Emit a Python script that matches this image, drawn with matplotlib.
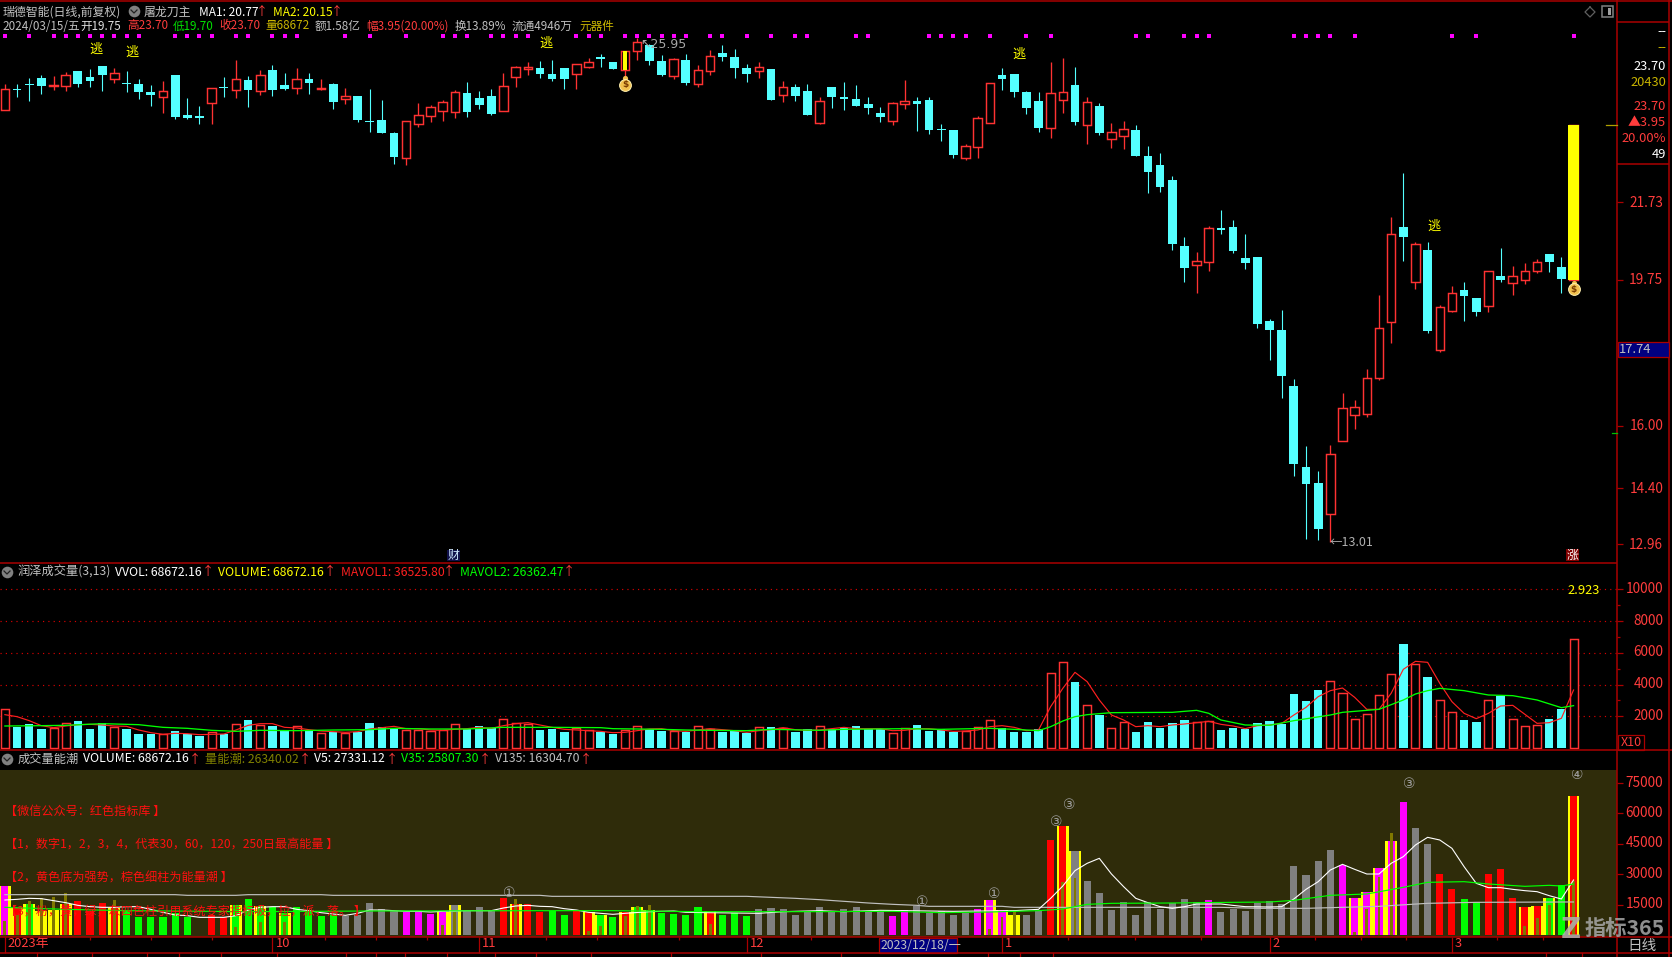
import numpy as np
import matplotlib
matplotlib.use('Agg')
import matplotlib.pyplot as plt
from matplotlib.patches import Rectangle
from matplotlib.transforms import ScaledTranslation

plt.rcParams['font.family'] = ['Noto Sans CJK SC', 'DejaVu Sans']
plt.rcParams['axes.unicode_minus'] = False

opens = [24.10,24.64,24.76,24.92,24.72,24.72,25.10,24.94,25.23,24.90,
24.79,24.76,24.56,24.44,24.99,23.97,23.94,24.28,24.69,24.62,
24.87,24.58,25.12,24.74,24.67,24.89,24.63,24.76,24.39,24.46,
23.81,23.84,23.51,22.87,23.75,23.95,24.08,24.05,24.53,24.40,
24.46,24.08,24.95,25.16,25.17,25.02,25.17,25.03,25.20,25.46,
25.33,25.13,25.61,25.76,25.35,24.98,25.38,24.77,25.10,25.56,
25.46,25.17,25.10,25.15,24.49,24.69,24.58,23.77,24.69,24.43,
24.38,24.25,24.02,23.82,24.26,24.33,24.35,23.61,23.58,22.87,
23.16,23.77,24.99,25.02,24.56,24.33,23.64,24.36,24.74,23.72,
24.20,23.36,23.44,23.58,22.92,22.69,22.30,20.61,20.11,20.21,
21.07,21.10,20.30,20.33,18.69,18.46,17.02,14.94,14.53,13.75,
15.62,16.28,16.31,17.23,18.67,21.10,19.69,20.51,17.93,18.95,
19.48,19.28,19.06,19.84,19.67,19.74,19.98,20.40,20.07,19.75]
highs = [24.76,24.76,24.91,24.99,24.97,25.07,25.10,25.14,25.23,25.17,
25.10,24.89,24.74,24.84,24.99,24.40,24.20,24.65,24.94,25.38,
24.97,25.12,25.25,25.04,25.17,25.04,24.89,24.78,24.66,24.46,
24.63,24.35,23.53,23.81,24.28,24.23,24.35,24.61,24.81,24.58,
24.63,25.04,25.23,25.33,25.35,25.38,25.17,25.28,25.42,25.53,
25.33,25.61,25.95,25.79,25.51,25.43,25.53,25.25,25.63,25.76,
25.66,25.28,25.33,25.15,24.84,24.76,24.76,24.43,24.69,24.81,
24.74,24.43,24.17,24.30,24.87,24.43,24.43,23.74,23.58,23.22,
23.94,24.80,25.17,25.02,24.58,24.56,25.33,25.43,25.20,24.43,
24.28,23.76,23.81,23.71,23.17,22.99,22.40,20.84,20.46,21.12,
21.53,21.28,20.92,20.33,18.74,18.97,17.21,15.48,14.84,15.51,
16.84,16.66,17.46,19.35,21.35,22.48,20.71,20.71,19.10,19.58,
19.69,19.28,19.97,20.56,20.10,20.17,20.28,20.40,20.33,23.70]
lows = [24.10,24.43,24.33,24.51,24.61,24.58,24.69,24.68,24.58,24.79,
24.56,24.38,24.20,24.02,23.87,23.87,23.74,23.74,24.43,24.40,
24.17,24.48,24.46,24.61,24.51,24.51,24.61,24.12,24.25,23.79,
23.53,23.51,22.71,22.69,23.66,23.79,23.81,23.89,23.92,24.12,
23.97,24.08,24.69,24.99,24.92,24.84,24.63,24.63,25.17,25.20,
25.15,24.94,25.38,25.25,24.97,24.89,24.74,24.69,24.99,25.35,
24.92,24.81,24.92,24.35,24.30,24.33,23.97,23.74,24.15,24.10,
24.20,24.00,23.79,23.71,24.12,23.56,23.48,23.30,22.87,22.81,
22.87,23.77,24.61,24.43,24.00,23.53,23.38,24.02,23.71,23.22,
23.46,23.12,23.10,22.92,21.97,21.99,20.51,19.69,19.40,19.97,
20.92,20.43,20.02,18.51,17.69,16.71,14.71,13.10,13.07,13.01,
15.62,15.92,16.23,17.17,18.12,20.22,19.51,18.38,17.89,18.92,
18.69,18.82,18.92,19.69,19.35,19.63,19.92,19.94,19.40,19.75]
closes = [24.63,24.62,24.75,24.71,24.74,24.99,24.76,24.84,24.99,25.04,
24.77,24.56,24.48,24.58,23.92,23.89,23.89,24.65,24.66,24.88,
24.61,24.99,24.61,24.63,24.88,24.79,24.65,24.30,24.45,23.84,
23.79,23.51,22.89,23.81,23.96,24.17,24.29,24.55,24.04,24.23,
24.00,24.70,25.19,25.18,25.02,24.89,24.89,25.27,25.32,25.41,
25.15,25.61,25.83,25.35,24.99,25.40,24.79,25.11,25.47,25.46,
25.17,25.02,25.19,24.35,24.68,24.46,23.97,24.34,24.43,24.38,
24.20,24.15,23.92,24.27,24.34,24.25,23.58,23.59,22.94,23.17,
23.88,24.80,24.89,24.56,24.15,23.63,24.52,24.55,23.79,24.29,
23.51,23.52,23.60,22.92,22.51,22.12,20.66,20.05,20.22,21.06,
21.02,20.48,20.17,18.61,18.46,17.28,15.02,14.51,13.35,15.27,
16.45,16.47,17.22,18.50,20.91,20.84,20.65,18.43,19.04,19.40,
19.33,18.92,19.96,19.74,19.83,19.98,20.19,20.21,19.76,23.70]
volume = [2436,1344,1512,1197,1239,1554,1701,1197,1575,1344,
1197,882,882,882,1071,882,777,987,882,1491,
1764,1428,1386,1071,1365,1134,924,1008,924,1008,
1575,1302,1197,1155,1155,1050,1113,1491,1197,1386,
1239,1806,1554,1512,1134,1197,1008,1239,1113,1008,
882,1155,1365,1218,1071,1050,1008,1365,1176,1008,
1071,945,1302,1323,1260,1008,1197,1365,1176,1260,
1386,1197,1176,924,1239,1449,1071,1176,1008,1071,
1302,1743,1239,1008,1008,1197,4704,5397,4158,2688,
2079,1239,1638,1008,1638,1281,1575,1764,1617,1722,
1134,1260,1197,1575,1701,1512,3402,2961,3654,4200,
3444,1806,2121,3318,4641,6552,5271,4473,3003,2247,
1764,1638,3003,3276,1806,1365,1428,1827,2457,6867]
mavol1 = [2100,1974,1722,1407,1281,1386,1470,1491,1449,1386,
1365,1134,966,861,924,903,840,861,882,1134,
1428,1533,1533,1302,1260,1155,1071,1029,987,1029,
1197,1281,1365,1218,1218,1134,1113,1176,1218,1302,
1239,1407,1533,1596,1449,1302,1176,1134,1092,1050,
966,987,1092,1197,1218,1092,1050,1134,1218,1155,
1092,987,1092,1155,1281,1155,1113,1134,1218,1302,
1218,1218,1218,1092,1113,1218,1218,1134,1050,1071,
1134,1344,1407,1302,1092,1134,2604,3759,4767,4179,
3024,2079,1764,1344,1407,1344,1449,1512,1596,1680,
1491,1386,1218,1407,1449,1554,2079,2562,3234,3612,
3780,3192,2436,2436,3444,4956,5460,5397,4074,2919,
2184,1848,2184,2646,2688,2121,1554,1596,1869,3654]
mavol2_idx = [0,3,5,8,11,13,15,17,19,21,24,27,30,32,35,38,41,45,49,50,54,56,58,61,63,67,69,74,77,81,83,85,86,87,88,89,90,91,96,98,99,100,102,104,106,109,110,113,115,116,117,118,120,122,124,126,128,129]
mavol2 = [1386,1407,1428,1533,1470,1302,1239,1113,1050,1113,1092,1134,1155,1239,1197,1197,1302,1302,1281,1218,1176,1134,1113,1092,1176,1113,1176,1218,1176,1239,1176,1092,1344,1701,1974,2100,2163,2226,2247,2373,2184,1764,1449,1428,1722,2079,2247,2436,3024,3402,3612,3759,3612,3339,3297,3024,2541,2667]
v5_idx = list(range(51)) + [51,53,55,56,62,64,67,69,72,78,83] + list(range(85,130))
v5 = [17273,17602,18095,17931,16944,15957,14641,13983,13654,13654,
13983,13983,12667,11186,9870,9541,8719,8719,8719,9541,
12338,13654,13983,13983,12667,12009,11022,10364,9706,10693,
12338,12338,12009,11680,11680,11351,11680,11844,12009,12009,
12009,13325,14312,14641,14147,13983,12996,12338,11186,10693,
10199,10693,11515,11844,11186,10693,11515,12009,11515,12173,11680,12009,
12667,18095,24182,31749,35368,37835,30104,23853,18095,15957,13983,13160,13983,15299,15299,15299,14600,13983,13900,13818,13983,17766,
22537,26320,32078,34874,32407,30104,30104,35368,38658,44415,48199,46883,42770,33723,25498,23359,23359,22537,21879,21385,19411,17766,27143]
v35_idx = [0,5,10,20,30,45,50,57,67,73,77,81,85,87,89,91,96,101,104,106,109,112,115,117,120,122,125,127,128,129]
v35 = [13654,12667,12009,11515,11844,12009,12009,11515,11515,11680,11022,11351,12009,12831,15134,15628,15792,16121,16286,17108,19576,20234,23524,25991,26320,25169,24017,24511,24182,25169]
v135_idx = [0,14,15,19,20,26,27,44,45,61,63,65,67,69,71,73,75,76,82,83,92,96,100,103,107,113,117,121,129]
v135 = [19905,19905,19576,19576,19905,19905,19576,19576,19082,19082,18589,18095,17437,16615,15792,15134,14641,14147,14147,13654,13654,13654,13654,13160,13160,14147,15628,16121,16304]
lower_colors = list("mrgyyrrrrr" "ggggggnrrg" "gggggggghh" "hhhmmmmhhh" "hrrrrggrrg" "grgggggg" "rg" "gghhhhhhhh" "hhhmmhhhhh" "mmmyhhrrhh" "hhhhhhhhhm" "hhhhhhhhhh" "mmmmmmhhrr" "ggrrrrrggr")
yellow_idx = [0,1,2,3,4,5,9,19,21,23,36,37,42,48,49,51,52,53,58,81,82,83,87,88,111,112,113,114,125,126,127,129]
brown_idx = [0,1,2,3,4,5,9,19,21,23,36,37,42,48,49,51,52,53,58,81,82,83,87,88,111,112,113,114,125,126,127,129]
brown = [6909,9870,16779,18424,18918,20562,17272,4112,6580,6580,4935,11515,17766,1974,4441,9376,14311,14805,5428,2961,8718,12337,26320,28129,1645,12666,28787,50172,4441,8389,14805,26649]
dot_idx = [0,2,4,5,6,7,8,9,10,11,14,15,16,17,19,20,22,23,24,28,30,33,36,37,38,40,41,42,43,47,48,49,51,52,53,54,55,56,58,59,61,63,65,66,70,71,76,77,78,79,81,84,86,93,94,97,98,99,106,107,108,109,111,119,121,129]
escape_idx = [7.45,10.45,44.5,83.4,117.5]
escape_price = [25.66,25.58,25.81,25.53,21.12]
bag_idx = [51,129]
bag_price = [24.75,19.50]
price_ticks = [21.73,19.75,16.00,14.40,12.96]
vol_ticks = [2000,4000,6000,8000,10000]
lower_ticks = [15000,30000,45000,60000,75000]
month_idx = [0,22,39,61,82,104,119]
month_labels = ['2023年','10','11','12','1','2','3']
minor_idx = [7,12,17,26.3,30.5,34.7,44.5,48.7,55.4,66.3,87.4,92.9,98.4,107.7,111.5,115.2,122.7,126.5]
circle_idx = [41.5,75.4,81.4,86.5,87.5,115.5,129.3]
circle_val = [20600,16100,20200,55800,64200,74500,79200]
circle_txt = ['①','①','①','③','③','③','④']
note_lines = ['【微信公众号：红色指标库 】',
              '【1，数字1，2，3，4，代表30，60，120，250日最高能量 】',
              '【2，黄色底为强势，棕色细柱为能量潮 】',
              '【3，粉，黄，绿，灰四色柱引用系统专家指标吸，拉，派，落。 】']

W, H = 1672, 957
RED = '#ff3c3c'
UP = '#ff3232'
CY = '#54ffff'
LINE = '#aa0000'
GR = '#c0c0c0'
fig = plt.figure(figsize=(W/100, H/100), dpi=100, facecolor='black')

def px_axes(x0, y0, x1, y1, **kw):
    return fig.add_axes([x0/W, 1-y1/H, (x1-x0)/W, (y1-y0)/H], **kw)

XLIM = (-4.9/12.16, (1617-4.9)/12.16)
n = len(opens)
x = np.arange(n)
o, h, l, c = map(np.array, (opens, highs, lows, closes))
vol = np.array(volume, float)
up = c >= o

# price panel
ax = px_axes(0, 0, 1617, 563, facecolor='black')
ax.set_xlim(*XLIM)
ax.set_ylim(26.917-563/39, 26.917)
top = np.maximum(o, c); bot = np.minimum(o, c)
ax.vlines(x[~up], l[~up], h[~up], color=CY, lw=0.8)
ax.vlines(x[up], top[up], h[up], color=UP, lw=0.95)
ax.vlines(x[up], l[up], bot[up], color=UP, lw=0.95)
ax.bar(x[~up], (top-bot)[~up], bottom=bot[~up], width=0.72, color=CY, lw=0)
ax.bar(x[up], np.maximum((top-bot)[up], 0.03), bottom=bot[up], width=0.70, facecolor='black', edgecolor=UP, lw=1.05)
ax.bar(x[51], top[51]-bot[51], bottom=bot[51], width=0.28, color='#ffff00', lw=0, zorder=4)
ax.bar(x[-1], top[-1]-bot[-1], bottom=bot[-1], width=0.92, color='#ffff00', lw=0, zorder=4)
ax.scatter(dot_idx, [26.0]*len(dot_idx), marker='s', s=5, color='#ff00ff', lw=0, zorder=3)
for i, p in zip(escape_idx, escape_price):
    ax.text(i, p, '逃', color='#ffff00', fontsize=9.5, ha='center', va='center')
for i, p in zip(bag_idx, bag_price):
    ax.scatter([i], [p+0.16], s=14, color='#f2c14e', lw=0, zorder=5)
    ax.scatter([i], [p], s=72, color='#f2c14e', edgecolor='#fff0b0', lw=0.7, zorder=5)
    ax.text(i, p-0.01, '$', color='#7a3b00', fontsize=6.5, ha='center', va='center', fontweight='bold', zorder=6, family='DejaVu Sans')
ax.set_yticks(price_ticks)
ax.set_yticklabels(['%.2f' % t for t in price_ticks])
ax.set_xticks([])

# volume panel
ax2 = px_axes(0, 580, 1617, 750, facecolor='black')
ax2.set_xlim(*XLIM)
ax2.set_ylim(-126, 10584)
ax2.set_yticks(vol_ticks)
ax2.set_yticklabels([str(t) for t in vol_ticks])
ax2.set_yticks([3000,5000,7000,9000], minor=True)
ax2.grid(axis='y', which='major', color='#d80000', ls=(0,(1,3.5)), lw=0.85)
ax2.set_axisbelow(True)
ax2.bar(x[~up], vol[~up], width=0.70, color=CY, lw=0, zorder=2)
ax2.bar(x[up], vol[up], width=0.66, facecolor='black', edgecolor=UP, lw=1.05, zorder=2)
ax2.plot(x, mavol1, color='#ff2020', lw=0.85, zorder=3)
ax2.plot(mavol2_idx, mavol2, color='#00ff00', lw=0.95, zorder=4)
ax2.set_xticks([])

# energy panel
ax3 = px_axes(0, 770, 1617, 937, facecolor='#2f2c0a')
ax3.set_xlim(*XLIM)
ax3.set_ylim(-987, 81428)
cmap = {'r':'#ff0000','g':'#00ff00','h':'#808080','m':'#ff00ff','y':'#ffff00'}
vol10 = vol*10
for code, col in cmap.items():
    idx = [i for i, k in enumerate(lower_colors) if k == code and i not in yellow_idx]
    ax3.bar(idx, vol10[idx], width=0.58, color=col, lw=0, zorder=2)
ax3.bar(yellow_idx, vol10[yellow_idx], width=0.98, color='#ffff00', lw=0, zorder=3)
for code, col in cmap.items():
    idx = [i for i, k in enumerate(lower_colors) if k == code and i in yellow_idx]
    ax3.bar(idx, vol10[idx], width=0.58, color=col, lw=0, zorder=4)
ax3.bar(brown_idx, brown, width=0.24, color='#807800', lw=0, zorder=5)
ax3.plot(v135_idx, v135, color='#c0c0c0', lw=0.85, zorder=6)
ax3.plot(v5_idx, v5, color='#ffffff', lw=0.8, zorder=7)
ax3.plot(v35_idx, v35, color='#00ff00', lw=0.85, zorder=8)
for i, v, t in zip(circle_idx, circle_val, circle_txt):
    ax3.text(i, v, t, color='#a0a0a0', fontsize=10, ha='center', va='center', zorder=9, family=['DejaVu Sans'], clip_on=True)
ax3.set_yticks(lower_ticks)
ax3.set_yticklabels([str(t) for t in lower_ticks])
ax3.set_xticks(month_idx)
ax3.set_xticklabels(month_labels, ha='left', color=RED, fontsize=9.3)
ax3.set_xticks(minor_idx, minor=True)
ax3.tick_params(axis='x', which='major', length=11.5, width=0.9, color=LINE, pad=-11.5)
ax3.tick_params(axis='x', which='minor', length=2.2, width=0.9, color=LINE)
off = ScaledTranslation(3/100, 0, fig.dpi_scale_trans)
for lab in ax3.get_xticklabels():
    lab.set_transform(lab.get_transform()+off)

for a, dy in ((ax, 1), (ax2, 2), (ax3, 2)):
    for s in a.spines.values():
        s.set_visible(False)
    a.yaxis.tick_right()
    a.tick_params(axis='y', which='major', length=4.3, width=0.9, color=LINE, labelcolor=RED, labelsize=9.8, pad=29)
    a.tick_params(axis='y', which='minor', length=2.5, width=0.9, color=LINE)
    shift = ScaledTranslation(0, dy/100, fig.dpi_scale_trans)
    for lab in a.get_yticklabels():
        lab.set_ha('right')
        lab.set_transform(lab.get_transform()+shift)

# overlay: frame and text in pixel space
fg = px_axes(0, 0, W, H, facecolor='none', zorder=20)
fg.set_xlim(0, W); fg.set_ylim(H, 0); fg.axis('off')

def T(px, py, s, col=GR, size=9.2, ha='left', **kw):
    if s == '↑':
        ha = 'center'
        px = px + 0.5
    fg.text(px, py, s, color=col, fontsize=size, ha=ha, va='center', **kw)

for yy, a, b in [(1,0,W),(563,0,1617),(750,0,W),(937,0,W),(953,0,W),(22,1617,1669),(164,1617,1669)]:
    fg.plot([a,b],[yy,yy],color=LINE,lw=1.1,solid_capstyle='butt')
fg.plot([1617,1617],[0,957],color=LINE,lw=1.1)
fg.plot([1669,1669],[0,957],color=LINE,lw=1.1)
fg.plot([1606,1617],[125,125],color='#b0a000',lw=0.9)
fg.plot([1612,1617],[433,433],color='#00c000',lw=0.9)
for xx in [37,92,147,179,221,277,346,376,405,447,495,536,591,671,761,841,988,1020,1053,1546,1582]:
    fg.plot([xx,xx],[953,957],color=LINE,lw=0.9)

# header
seg1 = [(3,'瑞德智能(日线,前复权)',GR),(144,'屠龙刀主',GR),(199,'MA1: 20.77','#ffffff'),(261,'↑',RED),(273,'MA2: 20.15','#ffff00'),(336,'↑',RED)]
for a,b,cc in seg1:
    T(a,12,b,cc,8.6)
seg2 = [(2,'2024/03/15/五',GR),(80,'开19.75','#e0e0e0'),(127,'高23.70',RED),(173,'低19.70','#00e000'),(219,'收23.70',RED),(265,'量68672','#c8b400'),(315,'额1.58亿',GR),(366,'幅3.95(20.00%)',RED),(455,'换13.89%',GR),(512,'流通4946万',GR),(579,'元器件','#c8b400')]
for a,b,cc in seg2:
    T(a,26,b,cc,8.4)
fg.scatter([134,7,7],[11,572,759],s=70,color='#808080',lw=0,zorder=3)
for a,b in [(134,11),(7,572),(7,759)]:
    fg.plot([a-3,a,a+3],[b-1,b+2,b-1],color='#202020',lw=0.9,zorder=4)
seg3 = [(18,'润泽成交量(3,13)',GR),(115,'VVOL: 68672.16','#ffffff'),(207,'↑',RED),(218,'VOLUME: 68672.16','#ffff00'),(329,'↑',RED),(341,'MAVOL1: 36525.80','#ff2020'),(448,'↑',RED),(460,'MAVOL2: 26362.47','#00ff00'),(568,'↑',RED)]
for a,b,cc in seg3:
    T(a,572,b,cc,8.8)
seg4 = [(18,'成交量能潮',GR),(83,'VOLUME: 68672.16','#ffffff'),(194,'↑',RED),(205,'量能潮: 26340.02','#808000'),(304,'↑',RED),(314,'V5: 27331.12','#ffffff'),(391,'↑',RED),(401,'V35: 25807.30','#00ff00'),(484,'↑',RED),(495,'V135: 16304.70',GR),(585,'↑',RED)]
for a,b,cc in seg4:
    T(a,759,b,cc,8.8)

for yy, s in zip([811,844,878,911], note_lines):
    T(5,yy,s,'#ff1010',8.7)

# right column
for yy,s,cc in [(32,'--','#ffffff'),(48,'--','#c8b400'),(67,'23.70','#ffffff'),(83,'20430','#c8b400'),(107,'23.70',RED),(123,'▲3.95',RED),(139,'20.00%',RED),(155,'49','#ffffff')]:
    T(1666,yy,s,cc,9.3,ha='right')
fg.add_patch(Rectangle((1618,342),51,15,facecolor='#000080',edgecolor=LINE,lw=0.9,zorder=3))
T(1619,349.5,'17.74',GR,9.3,zorder=4)
T(1600,591,'2.923','#ffff00',9.3,ha='right')
fg.add_patch(Rectangle((1618,735),26,15,facecolor='black',edgecolor=LINE,lw=0.9))
T(1621,742.5,'X10',RED,9)
T(1642,946,'日线',GR,10.5,ha='center')
# marks
T(640,44,'↖25.95','#a8a8a8',9,family=['DejaVu Sans'])
T(1330,542,'←13.01','#b0b0b0',9,family=['Noto Sans CJK SC','DejaVu Sans'])
fg.add_patch(Rectangle((447,550),13,11,facecolor='#10104a',lw=0))
T(453.5,555,'财','#cfe8ff',8.6,ha='center')
fg.add_patch(Rectangle((1566,549),13,12,facecolor='#800000',lw=0))
T(1572.5,555,'涨','#ffffff',8.6,ha='center')
fg.plot([1590,1595,1590,1585,1590],[7,12,17,12,7],color='#606060',lw=0.9)
fg.add_patch(Rectangle((1602,6),11,11,facecolor='none',edgecolor='#808080',lw=1.1))
fg.add_patch(Rectangle((1608,8),3,7,facecolor='#a0a0a0',lw=0))
# date box
fg.add_patch(Rectangle((879,938),78,15,facecolor='#000080',edgecolor=LINE,lw=0.9))
T(881,945.5,'2023/12/18/一',GR,8.8)
# watermark
T(1571,930,'Z','#b0b0b0',20,ha='center',alpha=0.85,fontweight='bold',family=['DejaVu Sans'])
T(1585,928,'指标365','#a8a8a8',15.3,alpha=0.85,fontweight='bold')

fig.savefig('out.png', dpi=100, facecolor='black')
